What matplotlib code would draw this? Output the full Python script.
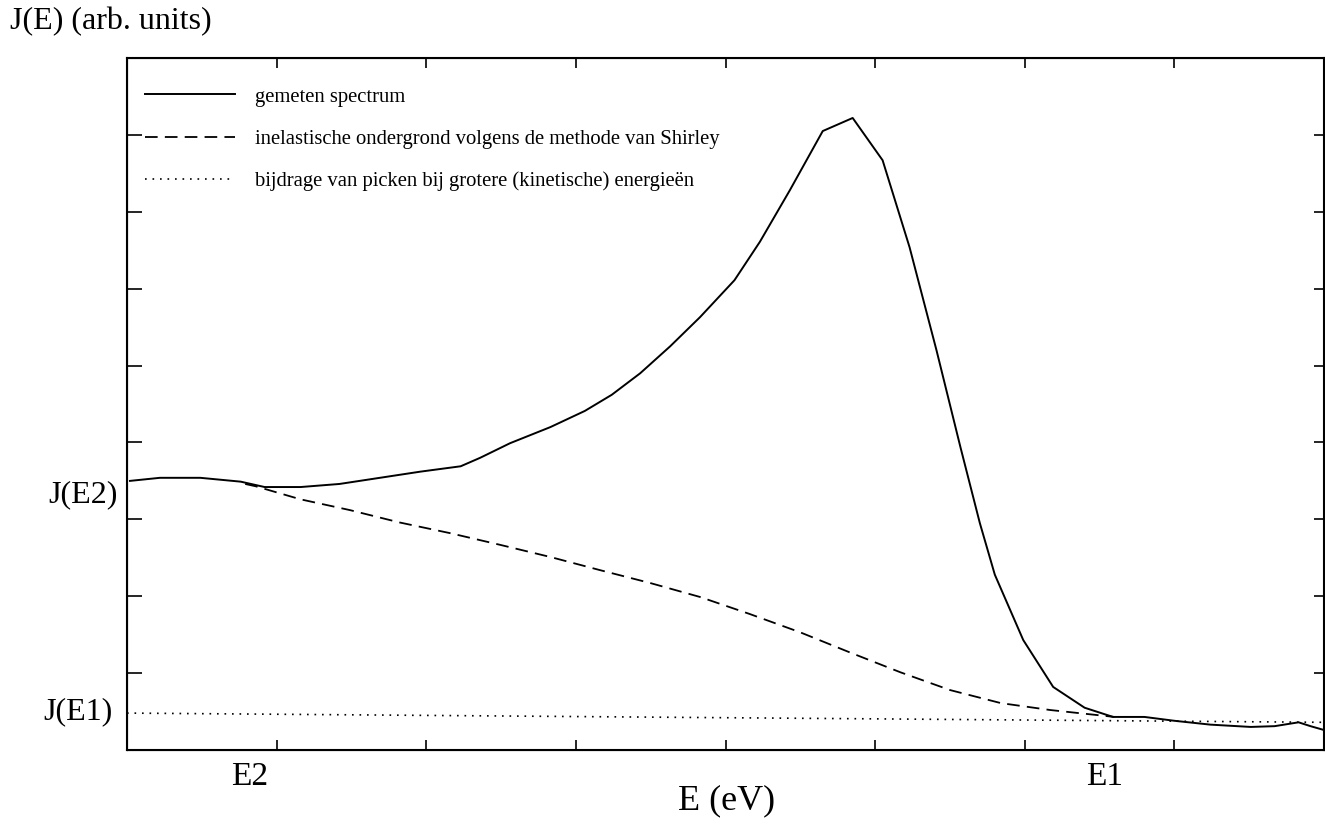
import numpy as np
import matplotlib
matplotlib.use("Agg")
import matplotlib.pyplot as plt

plt.rcParams['font.family'] = ['Liberation Serif', 'DejaVu Serif']

# gemeten spectrum (x in tick-eenheden, y in tick-eenheden)
x_spec = [0.02, 0.22, 0.49, 0.76, 0.92, 1.16, 1.42, 1.69, 1.96, 2.23, 2.36, 2.56,
          2.83, 3.06, 3.24, 3.43, 3.63, 3.83, 4.06, 4.23, 4.43, 4.65, 4.85, 5.05,
          5.23, 5.41, 5.57, 5.70, 5.80, 5.99, 6.19, 6.40, 6.59, 6.80, 7.00, 7.24,
          7.51, 7.67, 7.83, 7.91, 8.00]
y_spec = [3.50, 3.54, 3.54, 3.49, 3.42, 3.42, 3.46, 3.54, 3.62, 3.69, 3.80, 3.99,
          4.20, 4.41, 4.62, 4.90, 5.25, 5.63, 6.11, 6.61, 7.28, 8.05, 8.22, 7.67,
          6.54, 5.20, 3.94, 2.95, 2.28, 1.43, 0.82, 0.55, 0.43, 0.43, 0.38, 0.33,
          0.30, 0.31, 0.36, 0.31, 0.26]

# Shirley achtergrond
x_shir = [0.79, 0.86, 1.16, 1.49, 1.82, 2.16, 2.49, 2.83, 3.16, 3.50, 3.83, 4.16,
          4.50, 4.83, 5.17, 5.50, 5.84, 6.17, 6.60]
y_shir = [3.46, 3.43, 3.26, 3.12, 2.96, 2.82, 2.67, 2.51, 2.34, 2.17, 1.99, 1.77,
          1.53, 1.27, 1.01, 0.78, 0.61, 0.52, 0.43]

# bijdrage van pieken bij grotere energieen
x_bij = [0.0, 8.0]
y_bij = [0.48, 0.36]

labels = ["gemeten spectrum",
          "inelastische ondergrond volgens de methode van Shirley",
          "bijdrage van picken bij grotere (kinetische) energieën"]

xticks = [1, 2, 3, 4, 5, 6, 7]
yticks = [1, 2, 3, 4, 5, 6, 7, 8]

W, H = 1325, 830
fig = plt.figure(figsize=(W / 100, H / 100), dpi=100)
ax = fig.add_axes([127 / W, 1 - 750 / H, 1197 / W, 692 / H])

ax.plot(x_spec, y_spec, color="black", lw=1.4, label=labels[0])
ax.plot(x_shir, y_shir, color="black", lw=1.3, dashes=(7, 4), label=labels[1])
ax.plot(x_bij, y_bij, color="black", lw=1.2, ls=(0, (1, 3.5)), label=labels[2])

ax.set_xlim(0, 8)
ax.set_ylim(0, 9)
ax.set_xticks(xticks)
ax.set_yticks(yticks)
ax.tick_params(axis="x", direction="in", length=7, width=1.2, top=True,
               labelbottom=False)
ax.tick_params(axis="y", direction="in", length=11, width=1.2,
               labelleft=False)
for s in ax.spines.values():
    s.set_linewidth(1.5)

# rechter as met kortere streepjes
ax2 = ax.twinx()
ax2.set_ylim(0, 9)
ax2.set_yticks(yticks)
ax2.tick_params(axis="y", direction="in", length=7, width=1.2, labelright=False)

ax.legend(loc="upper left", bbox_to_anchor=(0.015, 0.958), frameon=False,
          borderaxespad=0, borderpad=0, handlelength=4.35, handletextpad=0.95,
          labelspacing=1.1, fontsize=14.9)

def ftext(px, py, s, ha="center", size=20):
    fig.text(px / W, 1 - py / H, s, ha=ha, va="center", fontsize=size)

ftext(10, 22, "J(E) (arb. units)", ha="left", size=23)
ftext(118, 495, "J(E2)", ha="right", size=23)
ftext(113, 712, "J(E1)", ha="right", size=23)
ftext(250, 777, "E2", size=24)
ftext(1105, 777, "E1", size=24)
ftext(727, 801, "E (eV)", size=26)

fig.savefig("out.png", dpi=100)
